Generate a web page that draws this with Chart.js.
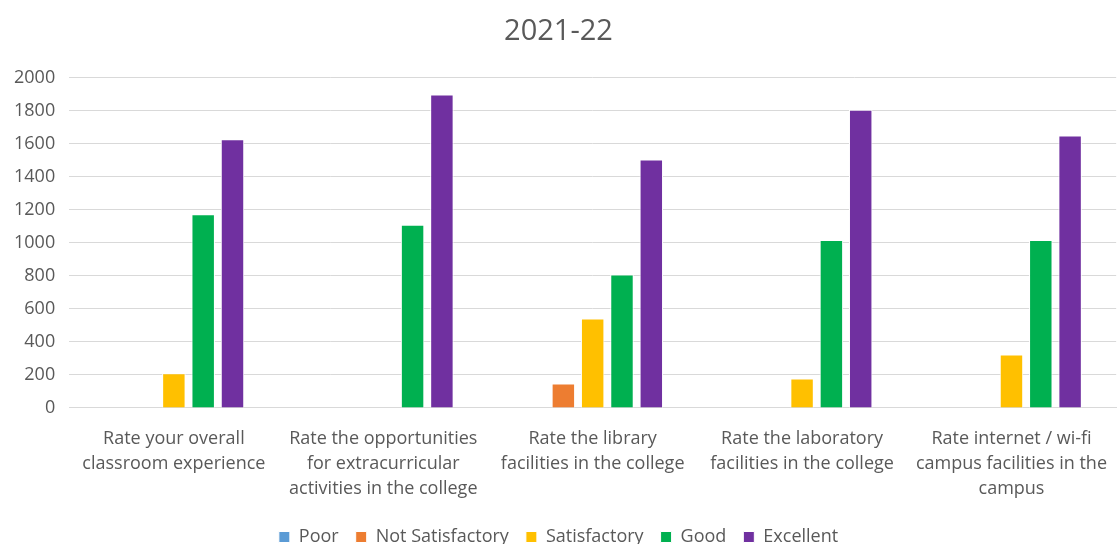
<!DOCTYPE html>
<html>
<head>
<meta charset="utf-8">
<script src="https://cdn.jsdelivr.net/npm/chart.js@4/dist/chart.umd.min.js"></script>
<style>
  html, body { margin: 0; padding: 0; background: #fff; }
  #wrap { width: 1117px; height: 544px; }
</style>
</head>
<body>
<div id="wrap"><canvas id="c"></canvas></div>
<script>
const categories = [
  ["Rate your overall", "classroom experience"],
  ["Rate the opportunities", "for extracurricular", "activities in the college"],
  ["Rate the library", "facilities in the college"],
  ["Rate the laboratory", "facilities in the college"],
  ["Rate internet / wi-fi", "campus facilities in the", "campus"]
];
const poor = [0, 0, 0, 0, 0];
const notSatisfactory = [0, 0, 148, 0, 0];
const satisfactory = [210, 0, 542, 178, 324];
const good = [1173, 1110, 809, 1017, 1017];
const excellent = [1628, 1899, 1505, 1806, 1650];
const yTicks = [0, 200, 400, 600, 800, 1000, 1200, 1400, 1600, 1800, 2000];

const txt = '#595959';
const font = '"Open Sans", sans-serif';

function ds(label, data, color) {
  return { label: label, data: data, backgroundColor: color, borderColor: '#fff', borderWidth: 1,
           barPercentage: 0.8, categoryPercentage: 0.7 };
}

new Chart(document.getElementById('c'), {
  type: 'bar',
  data: {
    labels: categories,
    datasets: [
      ds('Poor', poor, '#5B9BD5'),
      ds('Not Satisfactory', notSatisfactory, '#ED7D31'),
      ds('Satisfactory', satisfactory, '#FFC000'),
      ds('Good', good, '#00B050'),
      ds('Excellent', excellent, '#7030A0')
    ]
  },
  options: {
    responsive: true,
    maintainAspectRatio: false,
    animation: false,
    layout: { padding: { left: 0, right: 0, top: 14, bottom: -12 } },
    plugins: {
      title: { display: true, text: '2021-22', color: txt, font: { family: font, size: 29, weight: 'normal' }, padding: { top: 0, bottom: 29 } },
      legend: {
        position: 'bottom',
        labels: { color: txt, font: { family: font, size: 18 }, boxWidth: 11, boxHeight: 11, padding: 17 }
      },
      tooltip: { enabled: false }
    },
    scales: {
      x: {
        grid: { display: false },
        border: { color: '#d9d9d9' },
        ticks: { color: txt, font: { family: font, size: 18, lineHeight: 1.39 }, maxRotation: 0, autoSkip: false, padding: 10 }
      },
      y: {
        min: 0, max: 2000,
        afterBuildTicks: function(axis) { axis.ticks = yTicks.map(v => ({ value: v })); },
        grid: { color: '#d9d9d9', drawTicks: false },
        border: { display: false },
        ticks: { color: txt, font: { family: font, size: 18 }, padding: 14, callback: v => String(v) }
      }
    }
  }
});
</script>
</body>
</html>
